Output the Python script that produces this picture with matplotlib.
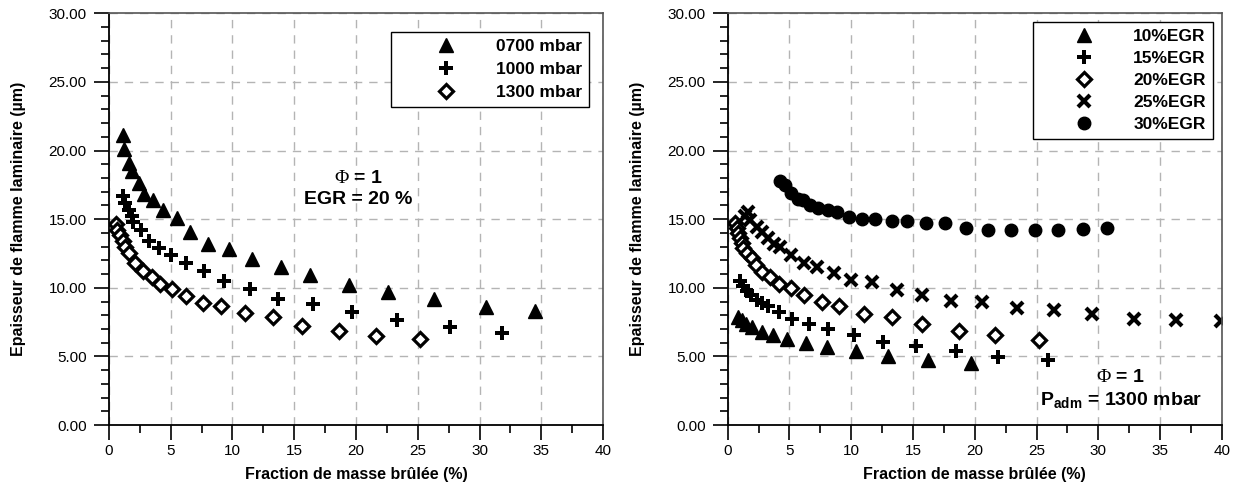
import matplotlib
matplotlib.use('Agg')
import matplotlib.pyplot as plt
from matplotlib.ticker import MultipleLocator, FormatStrFormatter

plt.rcParams['font.family'] = ['Liberation Sans', 'DejaVu Sans']
plt.rcParams['mathtext.fontset'] = 'custom'
plt.rcParams['mathtext.rm'] = 'Liberation Serif'
plt.rcParams['mathtext.bf'] = 'Liberation Sans:bold'

# --- left plot : pressure (EGR = 20 %)
x_0700 = [1.1, 1.24, 1.65, 1.9, 2.43, 2.86, 3.6, 4.4, 5.5, 6.6, 8.0, 9.7, 11.6,
          13.9, 16.3, 19.4, 22.6, 26.3, 30.5, 34.5]
y_0700 = [21.1, 20.1, 19.1, 18.5, 17.6, 16.8, 16.4, 15.7, 15.1, 14.1, 13.2, 12.8,
          12.1, 11.5, 10.9, 10.2, 9.7, 9.16, 8.62, 8.3]
x_1000 = [1.1, 1.3, 1.6, 1.84, 1.97, 2.56, 3.26, 4.07, 5.0, 6.23, 7.7, 9.3, 11.4,
          13.7, 16.5, 19.65, 23.35, 27.6, 31.8]
y_1000 = [16.7, 16.2, 15.7, 15.2, 14.8, 14.2, 13.4, 12.9, 12.4, 11.8, 11.2, 10.5,
          9.9, 9.2, 8.8, 8.2, 7.68, 7.12, 6.68]
x_1300 = [0.55, 0.68, 0.9, 1.1, 1.3, 1.65, 2.1, 2.72, 3.45, 4.1, 5.1, 6.2, 7.6,
          9.1, 11.0, 13.25, 15.6, 18.6, 21.6, 25.2]
y_1300 = [14.65, 14.2, 13.85, 13.4, 13.0, 12.5, 11.8, 11.2, 10.8, 10.3, 9.9, 9.4,
          8.9, 8.7, 8.14, 7.85, 7.2, 6.87, 6.52, 6.25]

# --- right plot : EGR rate (Padm = 1300 mbar)
x_egr10 = [0.86, 1.13, 1.48, 1.94, 2.75, 3.7, 4.83, 6.34, 8.07, 10.4, 13.0, 16.2, 19.7]
y_egr10 = [7.9, 7.65, 7.36, 7.12, 6.8, 6.56, 6.3, 6.0, 5.7, 5.42, 5.03, 4.74, 4.5]
x_egr15 = [1.0, 1.26, 1.54, 1.9, 2.35, 2.75, 3.3, 4.18, 5.2, 6.6, 8.1, 10.2, 12.6,
           15.25, 18.5, 21.9, 25.96]
y_egr15 = [10.5, 10.13, 9.77, 9.47, 9.1, 8.87, 8.67, 8.2, 7.7, 7.36, 6.97, 6.56,
           6.07, 5.76, 5.42, 4.98, 4.74]
x_egr20 = [0.59, 0.73, 0.86, 1.0, 1.13, 1.26, 1.54, 1.94, 2.29, 2.75, 3.43, 4.18,
           5.1, 6.18, 7.6, 9.04, 11.0, 13.3, 15.7, 18.7, 21.6, 25.2]
y_egr20 = [14.75, 14.33, 13.97, 13.6, 13.24, 12.88, 12.5, 12.15, 11.66, 11.17, 10.8,
           10.3, 9.96, 9.47, 8.99, 8.67, 8.1, 7.9, 7.34, 6.87, 6.56, 6.2]
x_egr25 = [1.4, 1.67, 1.8, 2.35, 2.75, 3.3, 3.75, 4.23, 5.1, 6.2, 7.26, 8.6, 10.0,
           11.7, 13.7, 15.7, 18.1, 20.6, 23.4, 26.45, 29.5, 32.9, 36.3, 39.9]
y_egr25 = [15.2, 15.5, 14.94, 14.45, 14.1, 13.6, 13.2, 12.95, 12.4, 11.8, 11.55,
           11.05, 10.6, 10.4, 9.84, 9.47, 9.06, 8.94, 8.56, 8.38, 8.07, 7.7, 7.65, 7.58]
x_egr30 = [4.23, 4.64, 5.12, 5.67, 6.1, 6.66, 7.34, 8.1, 8.88, 9.85, 10.85, 11.9,
           13.3, 14.5, 16.06, 17.6, 19.3, 21.05, 22.9, 24.9, 26.7, 28.8, 30.7]
y_egr30 = [17.8, 17.5, 16.9, 16.45, 16.4, 16.0, 15.84, 15.67, 15.55, 15.14, 15.0,
           15.0, 14.87, 14.87, 14.75, 14.75, 14.34, 14.2, 14.2, 14.2, 14.2, 14.25, 14.33]

labels_p = ['0700 mbar', '1000 mbar', '1300 mbar']
labels_egr = ['10%EGR', '15%EGR', '20%EGR', '25%EGR', '30%EGR']

XLABEL = 'Fraction de masse brûlée (%)'
YLABEL = 'Epaisseur de flamme laminaire (µm)'

# marker styles
tri = dict(marker='^', ms=10, color='black', ls='none')
plus = dict(marker='P', ms=10, color='black', ls='none', mew=0)
diam = dict(marker='D', ms=7, mfc='white', mec='black', mew=2.3, ls='none')
cross = dict(marker='x', ms=8, color='black', mew=3, ls='none')
circ = dict(marker='o', ms=9, color='black', ls='none')


def format_axis(ax):
    ax.set_xlim(0, 40)
    ax.set_ylim(0, 30)
    ax.xaxis.set_major_locator(MultipleLocator(5))
    ax.xaxis.set_minor_locator(MultipleLocator(2.5))
    ax.yaxis.set_major_locator(MultipleLocator(5))
    ax.yaxis.set_minor_locator(MultipleLocator(1))
    ax.yaxis.set_major_formatter(FormatStrFormatter('%.2f'))
    ax.tick_params(which='major', direction='out', length=11, width=1.2, labelsize=11)
    ax.tick_params(axis='x', which='major', pad=3)
    ax.tick_params(axis='y', which='major', pad=5)
    ax.tick_params(which='minor', direction='out', length=5.5, width=1.2)
    ax.grid(True, which='major', color='#b4b4b4', linestyle=(0, (6, 5)), lw=1)
    ax.set_axisbelow(True)
    for s in ['left', 'bottom']:
        ax.spines[s].set_linewidth(1.3)
        ax.spines[s].set_color('black')
    for s in ['top', 'right']:
        ax.spines[s].set_linewidth(1.2)
        ax.spines[s].set_color('#555555')
    ax.set_xlabel(XLABEL, fontsize=11.5, fontweight='bold')
    ax.set_ylabel(YLABEL, fontsize=11.5, fontweight='bold')
    ax.xaxis.set_label_coords(0.5, -0.103)
    ax.yaxis.set_label_coords(-0.168, 0.5)


fig = plt.figure(figsize=(12.37, 4.93), dpi=100)
ax1 = fig.add_axes([0.0881, 0.1379, 0.3994, 0.8351])
ax2 = fig.add_axes([0.5883, 0.1379, 0.3994, 0.8351])

ax1.plot(x_0700, y_0700, label=labels_p[0], **tri)
ax1.plot(x_1000, y_1000, label=labels_p[1], **plus)
ax1.plot(x_1300, y_1300, label=labels_p[2], **diam)
format_axis(ax1)
leg1 = ax1.legend(loc='upper right', bbox_to_anchor=(0.972, 0.955), borderaxespad=0,
                  prop={'weight': 'bold', 'size': 12.5}, handlelength=5.5,
                  handletextpad=0.15, labelspacing=0.45, borderpad=0.4,
                  fancybox=False, framealpha=1, edgecolor='black', numpoints=1)
leg1.get_frame().set_linewidth(1.0)
ax1.text(20.2, 17.98, r'$\Phi$ = 1', ha='center', va='center', fontsize=14,
         fontweight='bold')
ax1.text(20.2, 16.4, 'EGR = 20 %', ha='center', va='center', fontsize=14,
         fontweight='bold')

ax2.plot(x_egr10, y_egr10, label=labels_egr[0], **tri)
ax2.plot(x_egr15, y_egr15, label=labels_egr[1], **plus)
ax2.plot(x_egr20, y_egr20, label=labels_egr[2], **diam)
ax2.plot(x_egr25, y_egr25, label=labels_egr[3], **cross)
ax2.plot(x_egr30, y_egr30, label=labels_egr[4], **circ)
format_axis(ax2)
leg2 = ax2.legend(loc='upper right', bbox_to_anchor=(0.982, 0.979), borderaxespad=0,
                  prop={'weight': 'bold', 'size': 12.5}, handlelength=5.0,
                  handletextpad=0.35, labelspacing=0.4, borderpad=0.4,
                  fancybox=False, framealpha=1, edgecolor='black', numpoints=1)
leg2.get_frame().set_linewidth(1.0)
ax2.text(31.8, 3.43, r'$\Phi$ = 1', ha='center', va='center', fontsize=14,
         fontweight='bold')
ax2.text(31.85, 1.78, r'P$_{\mathbf{adm}}$ = 1300 mbar', ha='center', va='center',
         fontsize=14, fontweight='bold')

fig.savefig('out.png', dpi=100)
